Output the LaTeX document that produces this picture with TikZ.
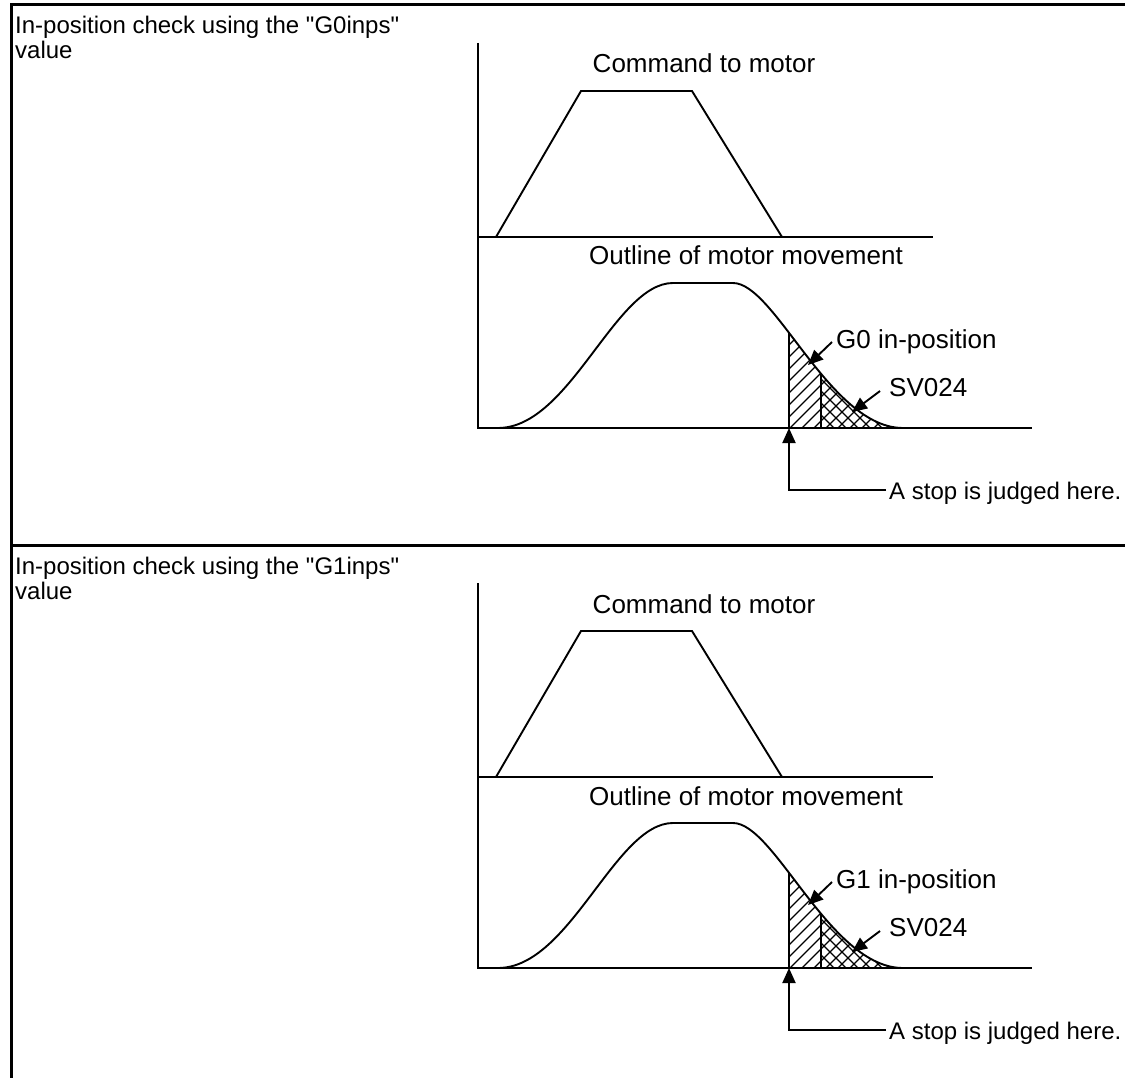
\documentclass[tikz,border=0pt]{standalone}
\usepackage{fontspec}
\newfontfamily\arialf{Liberation Sans}
\usetikzlibrary{arrows.meta}
\tikzset{
  frameline/.style={line width=3pt},
  chartline/.style={line width=1.9pt, line join=miter},
  hatchline/.style={line width=1.3pt},
  lbl/.style={inner sep=0pt, font=\arialf\fontsize{26pt}{30pt}\selectfont},
  titletext/.style={inner sep=0pt, font=\arialf\fontsize{24pt}{25pt}\selectfont},
  smalltext/.style={inner sep=0pt, font=\arialf\fontsize{24pt}{28pt}\selectfont},
  pointer/.style={line width=1.9pt, -{Triangle[length=15pt,width=13pt]}},
}
\newcommand\motorpanel[4]{%
\begin{scope}[shift={(0,#2)}]
  \node[titletext, anchor=base west] (ta#1) at (15,34) {In-position check using the "#4"};
  \node[titletext, anchor=base west] (tb#1) at (15,59) {value};
  % axes
  \draw[chartline] (478,43) -- (478,428) -- (1032,428);
  \draw[chartline] (478,237) -- (933,237);
  % command trapezoid
  \draw[chartline] (496,237) -- (581,91) -- (692,91) -- (782,237);
  \node[lbl, anchor=base] (cmd#1) at (704,73) {Command to motor};
  \node[lbl, anchor=base] (out#1) at (746,265) {Outline of motor movement};
  % hatching
  \begin{scope}
    \clip (498,428) .. controls (570,428) and (615,283) .. (673,283) -- (733,283)
          .. controls (775,283) and (830,428) .. (903,428) -- cycle;
    \begin{scope}
      \clip (789,270) rectangle (821,430);
      \foreach \s in {670,682,...,910} \draw[hatchline] (\s,440) -- ++(170,-170);
    \end{scope}
    \begin{scope}
      \clip (821,270) rectangle (910,430);
      \foreach \s in {670,682,...,910} \draw[hatchline] (\s,440) -- ++(170,-170);
      \foreach \s in {640,652,...,910} \draw[hatchline] (\s,270) -- ++(170,170);
    \end{scope}
    \draw[chartline] (789,270) -- (789,428);
    \draw[hatchline] (821,270) -- (821,428);
  \end{scope}
  % motor movement curve
  \draw[chartline] (498,428) .. controls (570,428) and (615,283) .. (673,283) -- (733,283)
        .. controls (775,283) and (830,428) .. (903,428);
  % labels and pointers
  \node[lbl, anchor=base west] (g#1) at (836,348) {#3 in-position};
  \node[lbl, anchor=base west] (sv#1) at (889,396) {SV024};
  \node[smalltext, anchor=base west] (stop#1) at (889,499) {A stop is judged here.};
  \coordinate (gtip#1) at (808,365);
  \coordinate (svtip#1) at (852,412);
  \coordinate (stoptip#1) at (789,428);
  \draw[pointer] ([shift={(-4,-6)}]g#1.base west) -- (gtip#1);
  \draw[pointer] ([shift={(-9,-5)}]sv#1.base west) -- (svtip#1);
  \draw[pointer] ([shift={(-3,-9)}]stop#1.base west) -| (stoptip#1);
\end{scope}}
\begin{document}
\begin{tikzpicture}[x=1pt,y=-1pt]
  \useasboundingbox (0,0) rectangle (1125,1078);
  % frame
  \draw[frameline] (11,1078) -- (11,5) -- (1125,5);
  \draw[frameline] (11,545) -- (1125,545);
  \motorpanel{a}{0}{G0}{G0inps}
  \motorpanel{b}{540}{G1}{G1inps}
\end{tikzpicture}
\end{document}
